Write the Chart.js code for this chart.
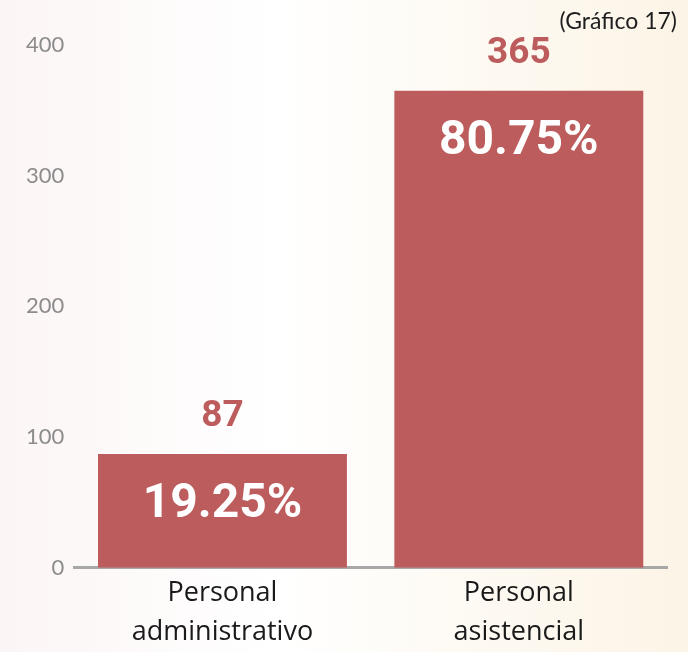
<!DOCTYPE html>
<html>
<head>
<meta charset="utf-8">
<script src="https://cdn.jsdelivr.net/npm/chart.js@4"></script>
<style>
  html, body { margin: 0; padding: 0; background: #ffffff; }
  #wrap { width: 688px; height: 652px; }
</style>
</head>
<body>
<div id="wrap"><canvas id="grafico17"></canvas></div>
<script>
// Datos del gráfico
const categorias = [['Personal', 'administrativo'], ['Personal', 'asistencial']];
const cantidades = [87, 365];
const porcentajes = ['19.25%', '80.75%'];
const ticksY = [0, 100, 200, 300, 400];
const titulo = '(Gráfico 17)';

const ROJO = '#bd5c5c';

// Fondo suave (rosado a la izquierda, crema a la derecha)
const fondoPlugin = {
    id: 'fondo',
    beforeDraw(chart) {
        const { ctx, width, height } = chart;
        const g = ctx.createLinearGradient(0, 0, width, 0);
        g.addColorStop(0, '#fcf5f5');
        g.addColorStop(0.4, '#ffffff');
        g.addColorStop(1, '#fcf4e6');
        ctx.save();
        ctx.fillStyle = g;
        ctx.fillRect(0, 0, width, height);
        ctx.restore();
    }
};

// Etiquetas: cantidad sobre la barra, porcentaje dentro, y título arriba a la derecha
const etiquetasPlugin = {
    id: 'etiquetas',
    afterDatasetsDraw(chart) {
        const { ctx } = chart;
        const meta = chart.getDatasetMeta(0);
        ctx.save();
        ctx.textAlign = 'center';
        ctx.textBaseline = 'middle';
        meta.data.forEach((bar, i) => {
            ctx.fillStyle = ROJO;
            ctx.font = 'bold 37px Roboto';
            ctx.fillText(String(cantidades[i]), bar.x, bar.y - 37);
            ctx.fillStyle = '#ffffff';
            ctx.font = 'bold 48px Roboto';
            ctx.fillText(porcentajes[i], bar.x, bar.y + 51);
        });
        // título
        ctx.textAlign = 'right';
        ctx.fillStyle = '#1e1e1e';
        ctx.font = '23px Lato';
        ctx.fillText(titulo, 677, 22);
        ctx.restore();
    }
};

const ctx = document.getElementById('grafico17').getContext('2d');
new Chart(ctx, {
    type: 'bar',
    data: {
        labels: categorias,
        datasets: [{
            data: cantidades,
            backgroundColor: ROJO,
            borderWidth: 0,
            categoryPercentage: 1,
            barPercentage: 0.84
        }]
    },
    options: {
        responsive: true,
        maintainAspectRatio: false,
        animation: false,
        layout: {
            padding: { left: 16, right: 21, top: 45, bottom: -6 }
        },
        scales: {
            y: {
                min: 0,
                max: 400,
                afterBuildTicks(axis) {
                    axis.ticks = ticksY.map(v => ({ value: v }));
                },
                grid: { display: false, drawTicks: false },
                border: { display: false },
                ticks: {
                    color: '#8c8c8c',
                    padding: 10,
                    font: { family: 'Lato', size: 22 }
                }
            },
            x: {
                grid: { display: false, drawTicks: false },
                border: { display: true, color: '#a8a8a8', width: 3 },
                ticks: {
                    color: '#1a1a1a',
                    padding: 6,
                    font: { family: 'Open Sans', size: 27, lineHeight: 1.45 }
                }
            }
        },
        plugins: {
            legend: { display: false },
            tooltip: { enabled: false },
            title: { display: false }
        }
    },
    plugins: [fondoPlugin, etiquetasPlugin]
});
</script>
</body>
</html>
